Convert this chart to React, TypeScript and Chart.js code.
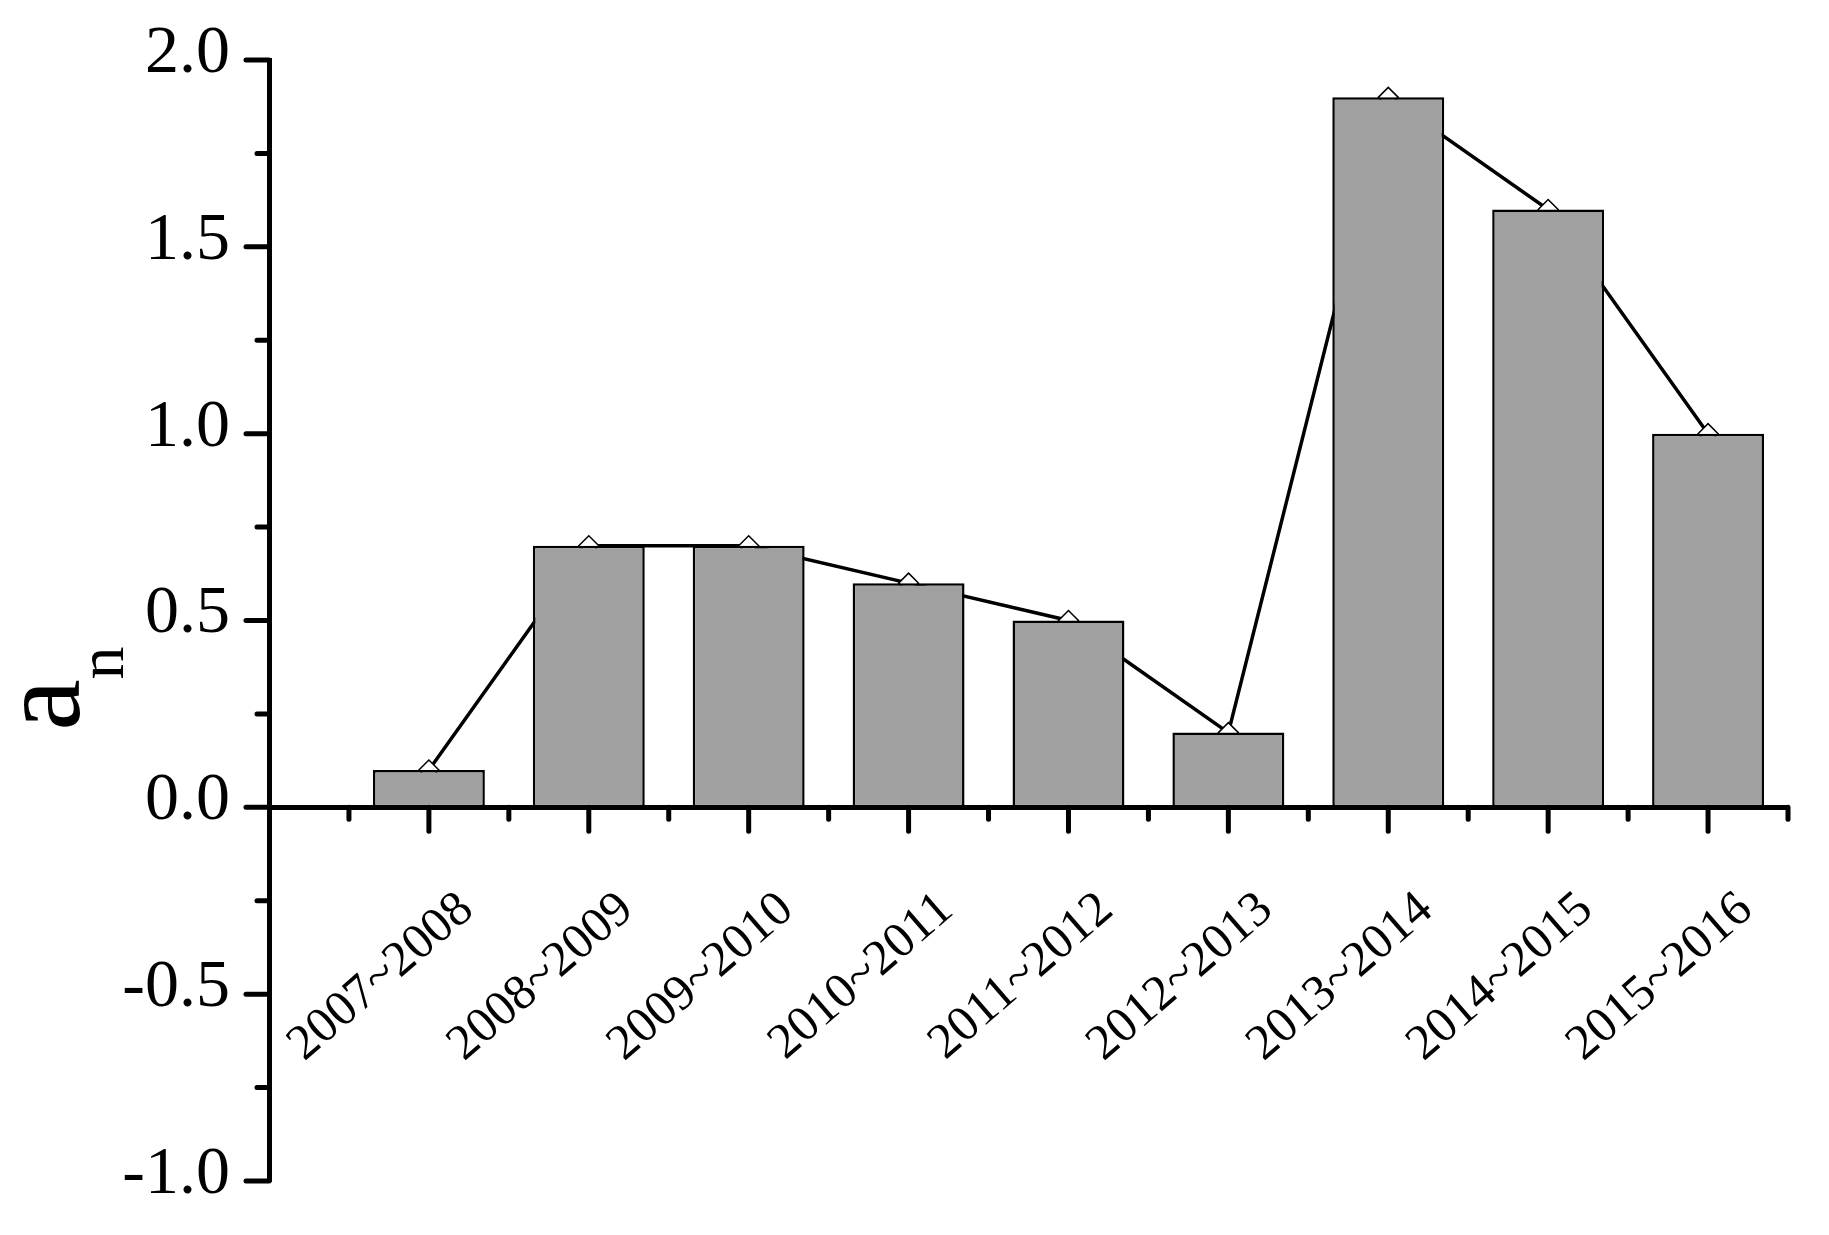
import React, { useEffect, useRef } from 'react';
import { Chart, registerables } from 'chart.js';

Chart.register(...registerables);

// ---- data ----
const categories = [
  '2007~2008', '2008~2009', '2009~2010', '2010~2011', '2011~2012',
  '2012~2013', '2013~2014', '2014~2015', '2015~2016',
];
const values = [0.1, 0.7, 0.7, 0.6, 0.5, 0.2, 1.9, 1.6, 1.0];
const yMin = -1;
const yMax = 2;
const yMajorStep = 0.5;
const yMinorStep = 0.25;
const xMin = -1;
const xMax = 8.5;
const xMinorStep = 0.5;
const yTitleMain = 'a';
const yTitleSub = 'n';

const FONT = '"Liberation Serif", "Times New Roman", Times, serif';
const W = 1829;
const H = 1235;

const isMultiple = (v: number, step: number) =>
  Math.abs(v / step - Math.round(v / step)) < 1e-6;

const zeroPadding = (scale: any) => {
  scale.paddingTop = 0;
  scale.paddingBottom = 0;
  scale.paddingLeft = 0;
  scale.paddingRight = 0;
};

const decorPlugin = {
  id: 'decor',
  afterDraw(chart: any) {
    const { ctx } = chart;
    const xs = chart.scales.x;
    const ys = chart.scales.y;
    const axisX = ys.right;
    const axisY = ys.getPixelForValue(0);
    ctx.save();
    ctx.strokeStyle = '#000';
    ctx.lineWidth = 5;
    ctx.lineCap = 'round';
    const nY = Math.round((yMax - yMin) / yMinorStep);
    for (let k = 0; k <= nY; k++) {
      const v = yMin + k * yMinorStep;
      const major = isMultiple(v, yMajorStep);
      const py = ys.getPixelForValue(v);
      ctx.beginPath();
      ctx.moveTo(axisX, py);
      ctx.lineTo(axisX - (major ? 23 : 12), py);
      ctx.stroke();
    }
    const nX = Math.round((xMax - xMin) / xMinorStep);
    for (let k = 1; k <= nX; k++) {
      const v = xMin + k * xMinorStep;
      const major = isMultiple(v, 1) && v <= categories.length - 1;
      const px = xs.getPixelForValue(v);
      ctx.beginPath();
      ctx.moveTo(px, axisY);
      ctx.lineTo(px, axisY + (major ? 24 : 12));
      ctx.stroke();
    }
    // y-axis title: a with subscript n, rotated
    ctx.fillStyle = '#000';
    ctx.textAlign = 'center';
    ctx.textBaseline = 'alphabetic';
    ctx.save();
    ctx.translate(79, 705);
    ctx.rotate(-Math.PI / 2);
    ctx.font = `116px ${FONT}`;
    ctx.fillText(yTitleMain, 0, 0);
    ctx.restore();
    ctx.save();
    ctx.translate(123, 663);
    ctx.rotate(-Math.PI / 2);
    ctx.font = `66px ${FONT}`;
    ctx.fillText(yTitleSub, 0, 0);
    ctx.restore();
    ctx.restore();
  },
};

export default function App() {
  const ref = useRef<HTMLCanvasElement | null>(null);

  useEffect(() => {
    document.body.style.margin = '0';
    const canvas = ref.current;
    if (!canvas) return;
    const points = values.map((v, i) => ({ x: i, y: v }));
    const chart = new Chart(canvas, {
      type: 'bar',
      data: {
        datasets: [
          {
            type: 'bar',
            data: points,
            backgroundColor: '#a0a0a0',
            borderColor: '#000',
            borderWidth: 2.5,
            borderSkipped: false,
            barPercentage: 1.4,
            categoryPercentage: 1,
            order: 0,
          } as any,
          {
            type: 'line',
            data: points,
            borderColor: '#000',
            borderWidth: 3.5,
            tension: 0,
            fill: false,
            pointStyle: 'rectRot',
            pointRadius: 10,
            pointBackgroundColor: '#fff',
            pointBorderColor: '#000',
            pointBorderWidth: 1.5,
            order: 1,
          } as any,
        ],
      },
      options: {
        animation: false,
        responsive: false,
        devicePixelRatio: 1,
        layout: { padding: { top: 60, bottom: 54, left: 0, right: 41 } },
        plugins: {
          legend: { display: false },
          tooltip: { enabled: false },
        },
        scales: {
          x: {
            type: 'linear',
            position: { y: 0 } as any,
            min: xMin,
            max: xMax,
            offset: false,
            grid: { display: false, drawTicks: false, tickLength: 0, offset: false },
            border: { display: true, color: '#000', width: 5 },
            afterFit: zeroPadding,
            ticks: {
              stepSize: xMinorStep,
              autoSkip: false,
              minRotation: 41,
              maxRotation: 41,
              padding: 73,
              labelOffset: 38,
              color: '#000',
              font: { family: FONT, size: 50 },
              callback: (v: any) => {
                const n = Number(v);
                return Number.isInteger(n) && n >= 0 && n < categories.length
                  ? categories[n]
                  : '';
              },
            },
          },
          y: {
            type: 'linear',
            position: 'left',
            min: yMin,
            max: yMax,
            grid: { display: false, drawTicks: false, tickLength: 0 },
            border: { display: true, color: '#000', width: 5 },
            afterFit: (scale: any) => {
              scale.width = 269;
              zeroPadding(scale);
            },
            ticks: {
              stepSize: yMinorStep,
              autoSkip: false,
              padding: 39,
              labelOffset: -6,
              color: '#000',
              font: { family: FONT, size: 68 },
              callback: (v: any) => {
                const n = Number(v);
                return isMultiple(n, yMajorStep) ? n.toFixed(1) : '';
              },
            },
          },
        },
      } as any,
      plugins: [decorPlugin],
    });
    return () => chart.destroy();
  }, []);

  return (
    <canvas
      ref={ref}
      width={W}
      height={H}
      style={{ display: 'block', width: W, height: H }}
    />
  );
}
